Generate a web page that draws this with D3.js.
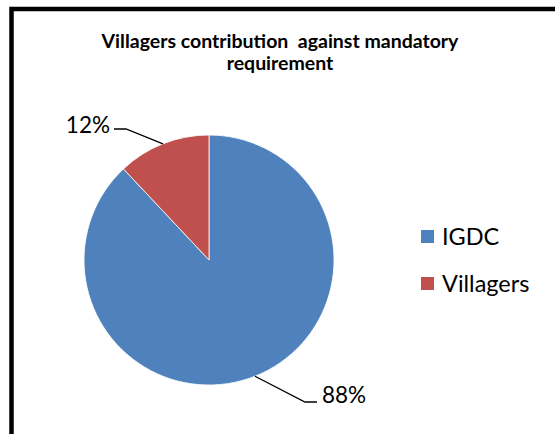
<!DOCTYPE html>
<html><head><meta charset="utf-8">
<script src="https://cdn.jsdelivr.net/npm/d3@7"></script>
<style>html,body{margin:0;padding:0;background:#fff;overflow:hidden}</style>
</head><body>
<svg id="c" width="555" height="434"></svg>
<script>
const categories = ["IGDC", "Villagers"];
const values = [88, 12];
const colors = ["#4F81BD", "#C0504D"];
const titleLines = ["Villagers contribution  against mandatory", "requirement"];

const svg = d3.select("#c");
const font = "Lato, 'Open Sans', sans-serif";

// frame
svg.append("rect").attr("x", 11.5).attr("y", 9).attr("width", 560).attr("height", 440)
  .attr("fill", "#fff").attr("stroke", "#000").attr("stroke-width", 4.5);

// title
svg.append("text").attr("x", 280).attr("y", 0).attr("text-anchor", "middle")
  .style("white-space", "pre")
  .attr("font-family", font).attr("font-weight", "bold").attr("font-size", 19.5).attr("fill", "#000")
  .selectAll("tspan").data(titleLines).join("tspan")
  .attr("x", 280).attr("y", (d, i) => 48 + i * 22).text(d => d);

const cx = 209, cy = 260, r = 125;
const pie = d3.pie().sort(null).value(d => d)(values);
const arc = d3.arc().innerRadius(0).outerRadius(r);
const g = svg.append("g").attr("transform", `translate(${cx},${cy})`);
g.selectAll("path").data(pie).join("path")
  .attr("d", arc).attr("fill", (d, i) => colors[i])
  .attr("stroke", "#fff").attr("stroke-width", 0.8);

// leader lines and labels
const total = d3.sum(values);
const edge = d => { const a = (d.startAngle + d.endAngle) / 2; return [r * Math.sin(a), -r * Math.cos(a)]; };
const labelSpec = [
  { elbow: [96, 142], end: [108, 142], tx: 113, ty: 143, anchor: "start" },
  { elbow: [-83, -131], end: [-95, -131], tx: -99, ty: -127, anchor: "end" }
];
pie.forEach((d, i) => {
  const p = edge(d), s = labelSpec[i];
  g.append("polyline").attr("points", [p, s.elbow, s.end].map(q => q.join(",")).join(" "))
    .attr("fill", "none").attr("stroke", "#000").attr("stroke-width", 1.3);
  g.append("text").attr("x", s.tx).attr("y", s.ty).attr("text-anchor", s.anchor)
    .attr("font-family", font).attr("font-size", 22.5).attr("fill", "#000")
    .text(d3.format(".0%")(values[i] / total));
});

// legend
const leg = svg.append("g").attr("transform", "translate(421,230)");
const items = leg.selectAll("g").data(categories).join("g")
  .attr("transform", (d, i) => `translate(0,${i * 47})`);
items.append("rect").attr("width", 13).attr("height", 13).attr("fill", (d, i) => colors[i]);
items.append("text").attr("x", 21).attr("y", 15)
  .attr("font-family", font).attr("font-size", 23.5).attr("fill", "#000").text(d => d);
</script>
</body></html>
